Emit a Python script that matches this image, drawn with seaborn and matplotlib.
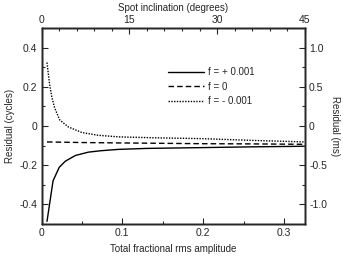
import matplotlib
matplotlib.use("Agg")
import matplotlib.pyplot as plt
from matplotlib.ticker import MultipleLocator
import seaborn as sns
import pandas as pd

# values
amp_pos = [0.0068, 0.0143, 0.022, 0.0295, 0.042, 0.058, 0.073, 0.095, 0.13, 0.197, 0.26, 0.326]
res_pos = [-0.486, -0.279, -0.21, -0.179, -0.15, -0.133, -0.126, -0.119, -0.114, -0.11, -0.106, -0.103]

amp_zero = [0.0068, 0.05, 0.095, 0.15, 0.2, 0.26, 0.326]
res_zero = [-0.081, -0.084, -0.086, -0.088, -0.09, -0.091, -0.093]

amp_neg = [0.0068, 0.010, 0.013, 0.0164, 0.0226, 0.033, 0.050, 0.070, 0.095, 0.14, 0.197, 0.26, 0.326]
res_neg = [0.324, 0.212, 0.143, 0.091, 0.031, -0.004, -0.033, -0.047, -0.055, -0.06, -0.064, -0.073, -0.081]

labels = ["f = + 0.001", "f = 0", "f = - 0.001"]
styles = ["-", (0, (4, 2.2)), (0, (1, 1))]

sns.set_style("ticks")
plt.rcParams["font.family"] = ["Liberation Sans", "DejaVu Sans"]
plt.rcParams["xtick.direction"] = "in"
plt.rcParams["ytick.direction"] = "in"

fig = plt.figure(figsize=(3.43, 2.57), dpi=100)
ax = fig.add_axes([0.121, 0.128, 0.768, 0.763])

series = [(amp_pos, res_pos), (amp_zero, res_zero), (amp_neg, res_neg)]
for (xs, ys), lab, ls in zip(series, labels, styles):
    df = pd.DataFrame({"amp": xs, "res": ys})
    sns.lineplot(data=df, x="amp", y="res", ax=ax, color="black", linestyle=ls,
                 linewidth=1.0, label=lab, sort=False)

ax.set_xlim(0, 0.326)
ax.set_ylim(-0.5, 0.5)
ax.xaxis.set_major_locator(MultipleLocator(0.1))
ax.xaxis.set_minor_locator(MultipleLocator(0.05))
ax.yaxis.set_major_locator(MultipleLocator(0.2))
ax.yaxis.set_minor_locator(MultipleLocator(0.1))
ax.set_xticklabels([])
ax.set_xticks([0, 0.1, 0.2, 0.3], ["0", "0.1", "0.2", "0.3"])
ax.set_yticks([-0.4, -0.2, 0, 0.2, 0.4], ["-0.4", "-0.2", "0", "0.2", "0.4"])
ax.tick_params(which="major", length=4, width=0.8, labelsize=7.5, pad=3)
ax.tick_params(which="minor", length=2.5, width=0.8)
ax.set_xlabel("Total fractional rms amplitude", fontsize=7, labelpad=4)
ax.set_ylabel("Residual (cycles)", fontsize=7, labelpad=3)

axr = ax.twinx()
axr.set_ylim(-1.25, 1.25)
axr.set_yticks([-1.0, -0.5, 0, 0.5, 1.0], ["-1.0", "-0.5", "0", "0.5", "1.0"])
axr.yaxis.set_minor_locator(MultipleLocator(0.25))
axr.tick_params(which="major", length=4, width=0.8, labelsize=7.5, pad=3)
axr.tick_params(which="minor", length=2.5, width=0.8)
axr.set_ylabel("Residual (ms)", fontsize=7, rotation=270, labelpad=9)

axt = ax.twiny()
axt.set_xlim(0, 45)
axt.set_xticks([0, 15, 30, 45], ["0", "15", "30", "45"])
axt.xaxis.set_minor_locator(MultipleLocator(3))
axt.tick_params(which="major", length=4, width=0.8, labelsize=7.5, pad=2)
axt.tick_params(which="minor", length=2.5, width=0.8)
axt.set_xlabel("Spot inclination (degrees)", fontsize=7, labelpad=3)

for a in (ax, axr, axt):
    for s in a.spines.values():
        s.set_linewidth(1.0)

ax.legend(loc="upper left", bbox_to_anchor=(0.48, 0.80), frameon=False, fontsize=7,
          handlelength=3.7, handletextpad=0.4, labelspacing=0.45,
          borderpad=0, borderaxespad=0)

fig.savefig("out.png", dpi=100)
